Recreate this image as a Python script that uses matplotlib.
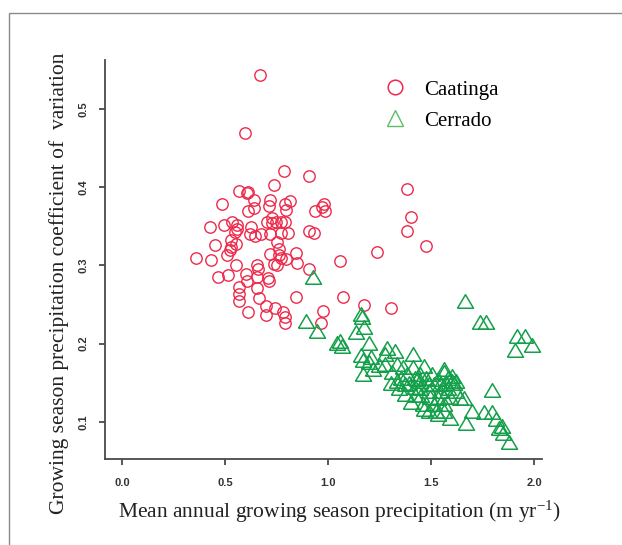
import numpy as np
import matplotlib
matplotlib.use("Agg")
import matplotlib.pyplot as plt
from matplotlib.lines import Line2D
from matplotlib.patches import Rectangle

plt.rcParams["mathtext.fontset"] = "custom"
plt.rcParams["mathtext.rm"] = "Liberation Serif"
plt.rcParams["mathtext.it"] = "Liberation Serif:italic"

# Caatinga sites: precipitation (m/yr), coefficient of variation
caatinga_x = [0.672, 0.599, 0.785, 0.906, 0.739, 1.386, 0.486, 0.566, 0.605, 0.614,
              0.643, 0.610, 0.643, 0.720, 0.712, 0.789, 0.818, 0.797, 0.983, 0.969,
              0.937, 0.985, 1.405, 0.426, 0.493, 0.532, 0.559, 0.547, 0.624, 0.620,
              0.645, 0.674, 0.726, 0.749, 0.772, 0.791, 0.726, 0.703, 0.772, 0.806,
              0.908, 0.933, 1.386, 0.720, 0.451, 0.528, 0.555, 0.509, 0.524, 1.478,
              1.240, 0.359, 0.434, 0.553, 0.653, 0.662, 0.754, 0.764, 0.720, 0.760,
              0.772, 0.795, 0.739, 0.752, 0.847, 0.850, 1.056, 0.910, 0.466, 0.516,
              0.601, 0.653, 0.710, 0.712, 0.605, 0.566, 0.653, 0.566, 0.566, 0.666,
              0.845, 1.075, 0.612, 0.697, 0.745, 0.697, 0.783, 0.789, 0.789, 0.975,
              0.965, 1.177, 1.307, 0.528, 0.560]
caatinga_y = [0.543, 0.469, 0.420, 0.414, 0.403, 0.398, 0.379, 0.395, 0.392, 0.394,
              0.383, 0.370, 0.373, 0.383, 0.376, 0.378, 0.382, 0.371, 0.379, 0.375,
              0.369, 0.369, 0.362, 0.349, 0.352, 0.355, 0.352, 0.342, 0.349, 0.340,
              0.338, 0.340, 0.361, 0.355, 0.356, 0.355, 0.354, 0.355, 0.341, 0.341,
              0.344, 0.341, 0.344, 0.340, 0.326, 0.323, 0.327, 0.313, 0.319, 0.325,
              0.317, 0.310, 0.307, 0.300, 0.300, 0.296, 0.330, 0.321, 0.315, 0.313,
              0.309, 0.308, 0.302, 0.300, 0.316, 0.303, 0.306, 0.296, 0.285, 0.288,
              0.289, 0.285, 0.284, 0.280, 0.280, 0.272, 0.271, 0.263, 0.255, 0.258,
              0.259, 0.260, 0.240, 0.248, 0.245, 0.236, 0.240, 0.234, 0.226, 0.242,
              0.226, 0.250, 0.246, 0.333, 0.346]

# Cerrado sites
cerrado_x = [0.927, 0.893, 0.946, 1.056, 1.069, 1.042, 1.161, 1.167, 1.136, 1.177,
             1.161, 1.200, 1.171, 1.209, 1.219, 1.171, 1.200, 1.286, 1.276, 1.324,
             1.276, 1.334, 1.311, 1.305, 1.411, 1.411, 1.464, 1.372, 1.372, 1.401,
             1.430, 1.449, 1.453, 1.478, 1.488, 1.507, 1.516, 1.488, 1.526, 1.536,
             1.564, 1.564, 1.593, 1.603, 1.564, 1.564, 1.584, 1.612, 1.641, 1.660,
             1.670, 1.664, 1.737, 1.766, 1.699, 1.756, 1.795, 1.795, 1.814, 1.829,
             1.843, 1.877, 1.906, 1.919, 1.958, 1.992, 1.344, 1.353, 1.334, 1.421,
             1.392, 1.459, 1.468, 1.516, 1.545, 1.593, 1.622, 1.584, 1.449, 1.421,
             1.497, 1.536, 1.564, 1.622, 1.382, 1.363, 1.248, 1.536, 1.488, 1.545,
             1.603, 1.574, 1.449, 1.421, 1.852]
cerrado_y = [0.284, 0.228, 0.215, 0.202, 0.196, 0.200, 0.237, 0.233, 0.213, 0.220,
             0.184, 0.200, 0.178, 0.182, 0.166, 0.160, 0.175, 0.193, 0.186, 0.189,
             0.173, 0.173, 0.162, 0.149, 0.186, 0.169, 0.170, 0.147, 0.135, 0.124,
             0.153, 0.142, 0.133, 0.155, 0.147, 0.160, 0.147, 0.113, 0.113, 0.109,
             0.131, 0.122, 0.104, 0.151, 0.166, 0.162, 0.155, 0.149, 0.129, 0.129,
             0.098, 0.253, 0.226, 0.227, 0.113, 0.111, 0.111, 0.140, 0.102, 0.091,
             0.093, 0.073, 0.190, 0.209, 0.208, 0.197, 0.142, 0.155, 0.151, 0.133,
             0.149, 0.122, 0.115, 0.122, 0.138, 0.131, 0.138, 0.142, 0.160, 0.155,
             0.131, 0.129, 0.113, 0.151, 0.160, 0.169, 0.171, 0.153, 0.138, 0.147,
             0.158, 0.149, 0.151, 0.144, 0.085]

x_ticks = [0.0, 0.5, 1.0, 1.5, 2.0]
y_ticks = [0.1, 0.2, 0.3, 0.4, 0.5]

red = "#EC2A4B"
green = "#14A04A"
axis_col = "#4a4a4a"

# wide, squat triangle like R's pch=2
tri = [(-1, -0.72), (1, -0.72), (0, 0.98), (-1, -0.72)]

fig = plt.figure(figsize=(6.22, 5.45), dpi=100)
fig.patches.append(Rectangle((9 / 622, -0.05), 1.1, 1 - 13 / 545 + 0.05,
                             transform=fig.transFigure, fill=False,
                             edgecolor="#8a8a8a", linewidth=1.0))

ax = fig.add_axes([105 / 622, 1 - 459 / 545, 437 / 622, 399 / 545])
ax.plot(caatinga_x, caatinga_y, linestyle="none", marker="o", ms=8.2,
        mfc="none", mec=red, mew=1.0)
ax.plot(cerrado_x, cerrado_y, linestyle="none", marker=tri, ms=11.5,
        mfc="none", mec=green, mew=1.1)

ax.set_xlim(-0.0825, 2.039)
ax.set_ylim(0.0527, 0.5623)
for s in ["top", "right"]:
    ax.spines[s].set_visible(False)
for s in ["left", "bottom"]:
    ax.spines[s].set_color(axis_col)
    ax.spines[s].set_linewidth(1.3)

ax.set_xticks(x_ticks)
ax.set_xticklabels([f"{v:.1f}" for v in x_ticks])
ax.set_yticks(y_ticks)
ax.set_yticklabels([f"{v:.1f}" for v in y_ticks], rotation=90, va="center")
ax.tick_params(axis="both", which="major", length=0,
               labelcolor="#333333", labelsize=8)
ax.tick_params(axis="x", pad=14)
ax.tick_params(axis="y", pad=12)
for lab in ax.get_xticklabels() + ax.get_yticklabels():
    lab.set_fontfamily("Liberation Sans")
    lab.set_fontweight("bold")

# outward tick marks as plain lines (6 px long)
ax.vlines(x_ticks, -6 / 399, 0, transform=ax.get_xaxis_transform(),
          colors=axis_col, linewidth=1.3, clip_on=False)
ax.hlines(y_ticks, -6 / 437, 0, transform=ax.get_yaxis_transform(),
          colors=axis_col, linewidth=1.3, clip_on=False)

handles = [
    Line2D([], [], linestyle="none", marker="o", ms=10.5, mfc="none", mec=red, mew=1.1),
    Line2D([], [], linestyle="none", marker="^", ms=12, mfc="none", mec="#5DBE65", mew=1.0),
]
ax.legend(handles, ["Caatinga", "Cerrado"], loc="upper left",
          bbox_to_anchor=(385 / 622, 1 - 80 / 545), bbox_transform=fig.transFigure,
          frameon=False, handlelength=1.0, handletextpad=0.9, labelspacing=0.55,
          borderpad=0, borderaxespad=0,
          prop={"family": "Liberation Serif", "size": 15})

fig.text(339 / 622, 1 - 512 / 545,
         "Mean annual growing season precipitation (m yr$^{-1}$)",
         ha="center", va="center", family="Liberation Serif", size=15.5, color="#222222")
fig.text(59 / 622, 1 - 283 / 545,
         "Growing season precipitation coefficient of  variation",
         ha="center", va="center", rotation=90, family="Liberation Serif",
         size=15.5, color="#222222")

fig.savefig("out.png", dpi=100)
